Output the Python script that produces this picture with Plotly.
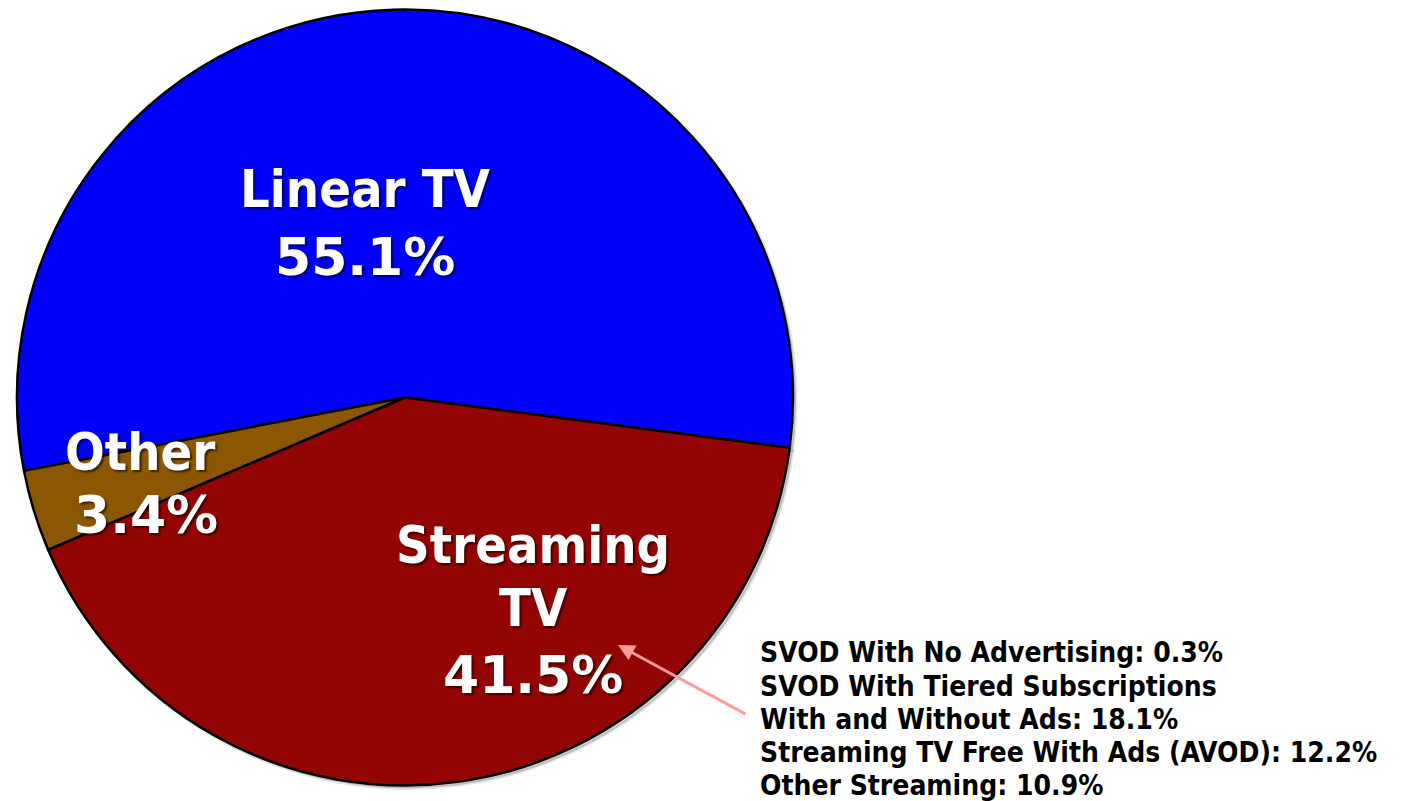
import plotly.graph_objects as go

labels = ["Linear TV", "Other", "Streaming TV"]
values = [55.1, 3.4, 41.5]
colors = ["#0000FE", "#8B5702", "#920502"]
name_lines = [["Linear TV"], ["Other"], ["Streaming", "TV"]]
pct_texts = ["55.1%", "3.4%", "41.5%"]
detail_lines = [
    "SVOD With No Advertising: 0.3%",
    "SVOD With Tiered Subscriptions",
    "With and Without Ads: 18.1%",
    "Streaming TV Free With Ads (AVOD): 12.2%",
    "Other Streaming: 10.9%",
]

W, H = 1403, 801
cx, cy, r = 405, 397.5, 388


def dom(dx=0, dy=0):
    return dict(x=[(cx - r + dx) / W, (cx + r + dx) / W],
                y=[1 - (cy + r + dy) / H, 1 - (cy - r + dy) / H])


fig = go.Figure()
# soft shadow behind the pie
fig.add_trace(go.Pie(
    labels=labels, values=values, sort=False, direction="counterclockwise", rotation=-100.9,
    marker=dict(colors=["rgba(0,0,0,0.18)"] * 3, line=dict(color="rgba(0,0,0,0.1)", width=3)),
    textinfo="none", hoverinfo="skip", showlegend=False, domain=dom(3, 3),
))
fig.add_trace(go.Pie(
    labels=labels, values=values, sort=False, direction="counterclockwise", rotation=-100.9,
    marker=dict(colors=colors, line=dict(color="black", width=2.5)),
    textinfo="none", hoverinfo="label+percent", showlegend=False, domain=dom(),
))

shadow = "2px 2px 2px rgba(0,0,0,0.6)"
name_font = dict(family="DejaVu Sans Condensed", size=52, color="white", weight="bold", shadow=shadow)
pct_font = dict(family="DejaVu Sans", size=52, color="white", weight="bold", shadow=shadow)

name_x = [365, 140, 533]
pct_x = [365, 146, 533]
name_y = [[189], [452], [545, 608]]
pct_y = [257, 515, 675]
for i in range(3):
    for t, py in zip(name_lines[i], name_y[i]):
        fig.add_annotation(x=name_x[i] / W, y=1 - py / H, xref="paper", yref="paper", text=t,
                           showarrow=False, font=name_font, xanchor="center", yanchor="middle")
    fig.add_annotation(x=pct_x[i] / W, y=1 - pct_y[i] / H, xref="paper", yref="paper",
                       text=pct_texts[i], showarrow=False, font=pct_font,
                       xanchor="center", yanchor="middle")

small_font = dict(family="DejaVu Sans Condensed", size=28, color="black", weight="bold")
line_y = [652, 686, 719, 752, 785]
for t, py in zip(detail_lines, line_y):
    fig.add_annotation(x=758 / W, y=1 - py / H, xref="paper", yref="paper", text=t,
                       showarrow=False, font=small_font, xanchor="left", yanchor="middle")

fig.add_annotation(x=618 / W, y=1 - 645 / H, xref="paper", yref="paper", text="",
                   showarrow=True, ax=129, ay=70, arrowcolor="#FF9A9A", arrowwidth=3,
                   arrowhead=2, arrowsize=1.1)

fig.update_layout(width=W, height=H, margin=dict(l=0, r=0, t=0, b=0),
                  paper_bgcolor="white", plot_bgcolor="white")
fig.write_html("out.html")
